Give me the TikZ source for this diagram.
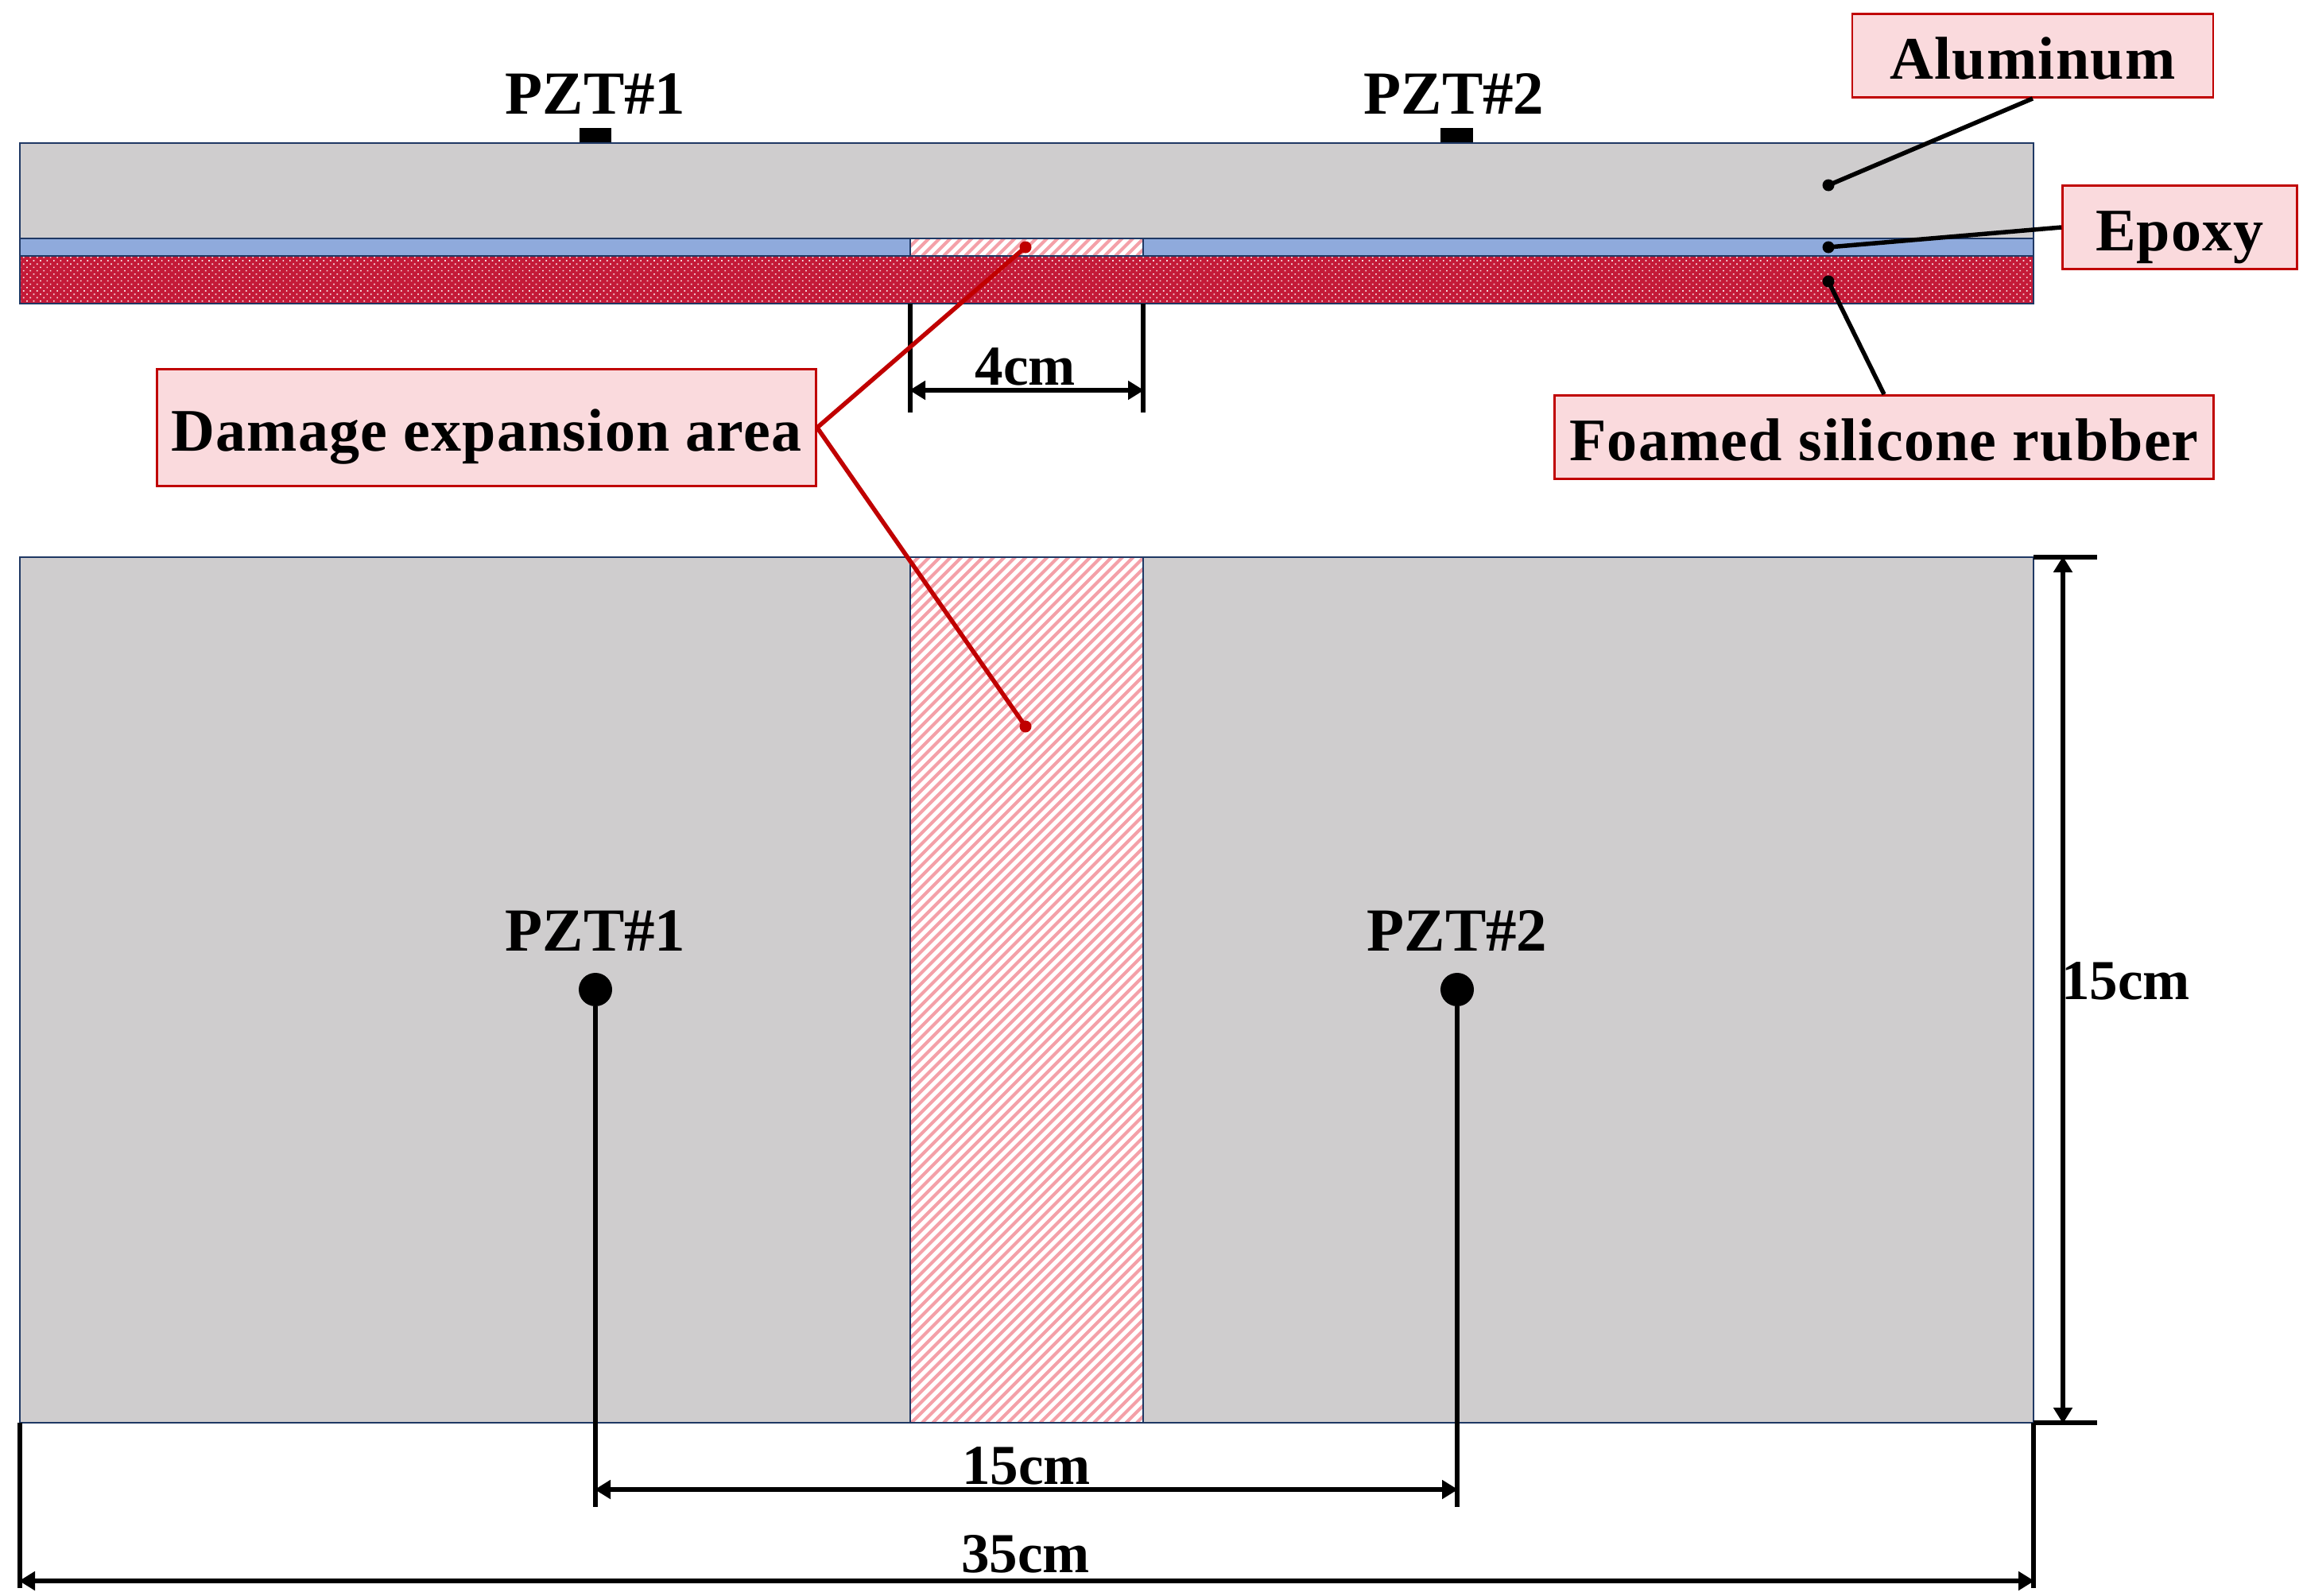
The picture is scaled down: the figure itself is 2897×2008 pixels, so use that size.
\documentclass[tikz,border=0pt]{standalone}
\usepackage{fontspec}
\setmainfont{Liberation Serif}
\usetikzlibrary{arrows.meta,patterns.meta}
\definecolor{plate}{HTML}{CFCDCE}
\definecolor{epox}{HTML}{8FAADC}
\definecolor{rubb}{HTML}{C41A38}
\definecolor{lab}{HTML}{FADADD}
\definecolor{dred}{HTML}{C00000}
\definecolor{edge}{HTML}{1F3864}
\definecolor{hat}{HTML}{F4A0A8}
\newfontfamily\calloutfont[LetterSpace=1.6]{Liberation Serif}
\tikzset{
  x=1pt,y=-1pt,
  layer/.style={draw=edge,line width=2.6pt},
  callout/.style={draw=dred,line width=2.8pt,fill=lab,inner sep=0pt,text height=58pt,text depth=0pt,font=\calloutfont\fontsize{76}{80}\selectfont\bfseries},
  txt/.style={inner sep=0pt,font=\fontsize{77}{80}\selectfont\bfseries},
  dimtxt/.style={inner sep=0pt,font=\fontsize{71}{80}\selectfont\bfseries},
  blk/.style={draw=black,line width=5.5pt},
  redl/.style={draw=dred,line width=5.5pt},
  dim/.style={draw=black,line width=5.5pt,{Triangle[length=20pt,width=23pt]}-{Triangle[length=20pt,width=23pt]},shorten <=-1pt,shorten >=-1pt},
  dotb/.style={circle,fill=black,inner sep=0pt,minimum size=15pt},
  dotr/.style={circle,fill=dred,inner sep=0pt,minimum size=15pt},
}
\newcommand{\hatchbox}[4]{%
  \begin{scope}
    \clip (#1,#2) rectangle (#3,#4);
    \fill[white] (#1,#2) rectangle (#3,#4);
    \foreach \k in {0,1,...,130}{
      \draw[hat,line width=4pt] ({#1+\k*13.5-1200},#4) -- ++(1200,-1200);
    }
  \end{scope}
  \draw[layer] (#1,#2) rectangle (#3,#4);
}
\begin{document}
\begin{tikzpicture}
\useasboundingbox (0,0) rectangle (2897,2008);
\fill[white] (0,0) rectangle (2897,2008);
% upper section
\fill[black] (729,161) rectangle (769,180);
\fill[black] (1812,161) rectangle (1853,180);
\draw[layer,fill=plate] (25,180) rectangle (2558,300);
\draw[layer,fill=epox] (25,300) rectangle (2558,322);
\fill[rubb] (25,322) rectangle (2558,382);
\fill[pattern={Dots[distance=6pt,radius=1.2pt,angle=45]},pattern color=white!85!rubb] (25,322) rectangle (2558,382);
\draw[layer] (25,322) rectangle (2558,382);
\hatchbox{1145}{300}{1438}{322}
% lower section
\draw[layer,fill=plate] (25,701) rectangle (2558,1790);
\hatchbox{1145}{701}{1438}{1790}
% labels
\node[txt] (p1a) at (749,118) {PZT\#1};
\node[txt] (p2a) at (1829,118) {PZT\#2};
\node[txt] (p1b) at (749,1171) {PZT\#1};
\node[txt] (p2b) at (1833,1171) {PZT\#2};
\node[circle,fill=black,inner sep=0pt,minimum size=42pt] (c1) at (749,1245) {};
\node[circle,fill=black,inner sep=0pt,minimum size=42pt] (c2) at (1833,1245) {};
\coordinate (c1e) at (749,1896);
\coordinate (c2e) at (1833,1896);
\draw[blk] (c1) -- (c1e);
\draw[blk] (c2) -- (c2e);
\coordinate (a1) at (749,1874);
\coordinate (a2) at (1833,1874);
\draw[dim] (a1) -- (a2);
\node[dimtxt] (d15) at (1291,1844) {15cm};
% 35 cm
\coordinate (l0) at (25,1790);
\coordinate (l1) at (25,1998);
\coordinate (r0) at (2558,1790);
\coordinate (r1) at (2558,1998);
\draw[blk] (l0) -- (l1);
\draw[blk] (r0) -- (r1);
\coordinate (b1) at (25,1989);
\coordinate (b2) at (2558,1989);
\draw[dim] (b1) -- (b2);
\node[dimtxt] (d35) at (1290,1955) {35cm};
% right 15 cm
\coordinate (t0) at (2558,701);
\coordinate (t1) at (2638,701);
\coordinate (u0) at (2558,1790);
\coordinate (u1) at (2638,1790);
\draw[blk] (t0) -- (t1);
\draw[blk] (u0) -- (u1);
\coordinate (v1) at (2595,701);
\coordinate (v2) at (2595,1790);
\draw[dim] (v1) -- (v2);
\node[dimtxt] (d15r) at (2674,1234) {15cm};
% 4 cm
\coordinate (g0) at (1145,382);
\coordinate (g1) at (1145,519);
\coordinate (h0) at (1438,382);
\coordinate (h1) at (1438,519);
\draw[blk] (g0) -- (g1);
\draw[blk] (h0) -- (h1);
\coordinate (w1) at (1145,491);
\coordinate (w2) at (1438,491);
\draw[dim] (w1) -- (w2);
\node[dimtxt] (d4) at (1290,461) {4cm};
% callouts
\node[callout,minimum width=454pt,minimum height=105pt] (alum) at (2557,70) {Aluminum};
\node[callout,minimum width=295pt,minimum height=105pt] (epo) at (2742,286) {Epoxy};
\node[callout,minimum width=829pt,minimum height=105pt] (foam) at (2370,550) {Foamed silicone rubber};
\node[callout,minimum width=829pt,minimum height=147pt] (dam) at (612,538) {Damage expansion area};
\node[dotb] (da) at (2300,233) {};
\node[dotb] (de) at (2300,311) {};
\node[dotb] (df) at (2300,354) {};
\draw[blk] (da.center) -- (alum.south);
\draw[blk] (de.center) -- (epo.west);
\draw[blk] (df.center) -- (foam.north);
\node[dotr] (r1d) at (1290,311) {};
\node[dotr] (r2d) at (1290,914) {};
\draw[redl] (dam.east) -- (r1d.center);
\draw[redl] (dam.east) -- (r2d.center);
\end{tikzpicture}
\end{document}
